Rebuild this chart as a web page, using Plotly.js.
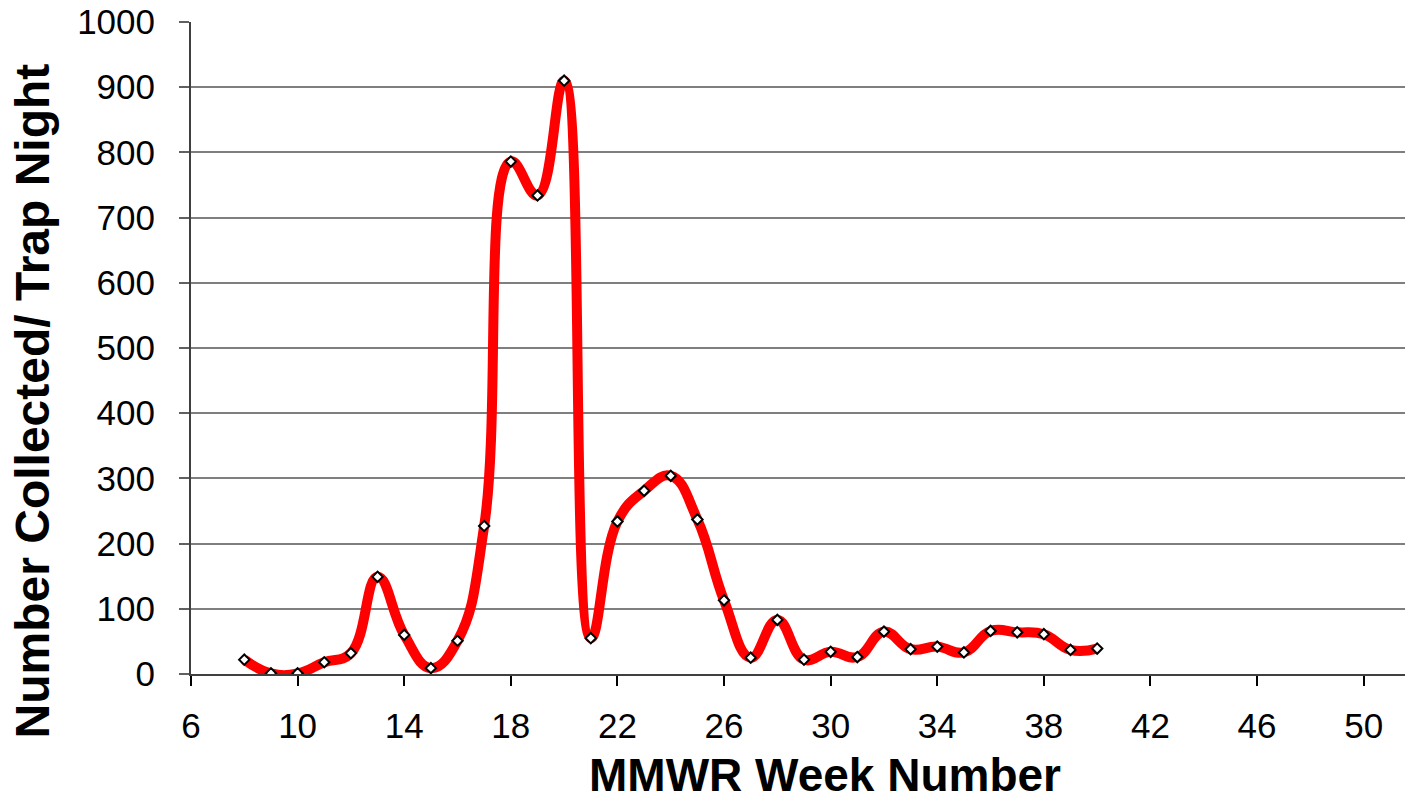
<!DOCTYPE html>
<html>
<head>
<meta charset="utf-8">
<script src="https://cdn.plot.ly/plotly-3.0.1.min.js"></script>
<style>html,body{margin:0;padding:0;background:#fff;}#chart{width:1405px;height:802px;}</style>
</head>
<body>
<div id="chart"></div>
<script>
const weeks = [8,9,10,11,12,13,14,15,16,17,18,19,20,21,22,23,24,25,26,27,28,29,30,31,32,33,34,35,36,37,38,39,40];
const perTrapNight = [22,1,1,18,32,149,60,9,51,227,786,734,910,55,234,281,304,237,113,25,83,22,34,26,65,38,42,33,66,64,61,37,39];
const xTicks = [6,10,14,18,22,26,30,34,38,42,46,50];
const yTicks = [0,100,200,300,400,500,600,700,800,900,1000];
const xTitle = 'MMWR Week Number';
const yTitle = 'Number Collected/ Trap Night';

const trace = {
  x: weeks, y: perTrapNight, type: 'scatter', mode: 'lines+markers',
  line: {color: '#ff0000', width: 10, shape: 'spline', smoothing: 1.25},
  marker: {symbol: 'diamond', size: 8, color: '#ffffff', line: {color: '#000000', width: 2}},
  hoverinfo: 'x+y'
};
const font = 'Liberation Sans, Arial, sans-serif';
const layout = {
  width: 1405, height: 802,
  margin: {l: 191, r: 0, t: 22, b: 128},
  paper_bgcolor: '#ffffff', plot_bgcolor: '#ffffff',
  showlegend: false,
  font: {family: font, color: '#000000'},
  xaxis: {
    range: [6, 51.55], tickvals: xTicks, ticktext: xTicks.map(String),
    showgrid: false, zeroline: false, showline: true, linecolor: '#404040', linewidth: 2,
    ticks: 'outside', ticklen: 10, tickwidth: 2, tickcolor: '#000000',
    ticklabelstandoff: 10,
    tickfont: {size: 35, family: font, color: '#000000'}
  },
  yaxis: {
    range: [0, 1000], tickvals: yTicks, ticktext: yTicks.map(String),
    showgrid: true, gridcolor: '#7f7f7f', gridwidth: 2, zeroline: false,
    showline: true, linecolor: '#404040', linewidth: 2,
    ticks: 'outside', ticklen: 10, tickwidth: 2, tickcolor: '#606060',
    ticklabelstandoff: 17,
    tickfont: {size: 35, family: font, color: '#000000'}
  },
  annotations: [
    {text: xTitle, xref: 'paper', yref: 'paper', x: 0.5222, y: -0.1545, xanchor: 'center', yanchor: 'middle',
     showarrow: false, font: {size: 46, family: font, color: '#000000', weight: 'bold'}},
    {text: yTitle, xref: 'paper', yref: 'paper', x: -0.1306, y: 0.4187, xanchor: 'center', yanchor: 'middle',
     textangle: -90, showarrow: false, font: {size: 48, family: font, color: '#000000', weight: 'bold'}}
  ]
};
Plotly.newPlot('chart', [trace], layout, {staticPlot: true, displayModeBar: false});
</script>
</body>
</html>
